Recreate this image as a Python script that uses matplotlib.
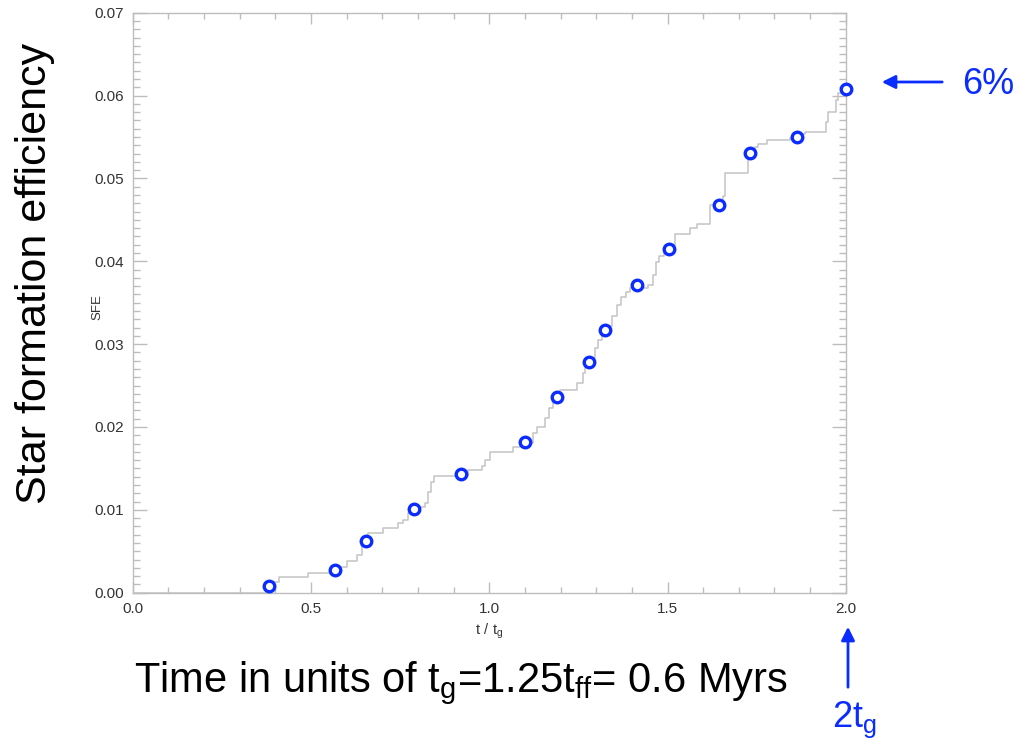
import matplotlib
matplotlib.use("Agg")
import matplotlib.pyplot as plt
from matplotlib.ticker import MultipleLocator

plt.rcParams['font.family'] = ['Liberation Sans', 'DejaVu Sans']

# Staircase SFE curve (step starts at time t with given level)
step_t = [0.0, 0.388, 0.410, 0.492, 0.584, 0.601, 0.629, 0.643, 0.660, 0.702,
          0.744, 0.758, 0.772, 0.800, 0.820, 0.828, 0.837, 0.845, 0.940, 0.980,
          0.988, 1.002, 1.067, 1.087, 1.123, 1.134, 1.157, 1.168, 1.179, 1.199,
          1.247, 1.263, 1.269, 1.283, 1.297, 1.305, 1.317, 1.334, 1.345, 1.359,
          1.370, 1.384, 1.395, 1.445, 1.459, 1.468, 1.476, 1.490, 1.510, 1.521,
          1.563, 1.583, 1.619, 1.656, 1.662, 1.726, 1.746, 1.754, 1.779, 1.844,
          1.872, 1.886, 1.945, 1.950, 1.973, 1.978, 1.990, 2.000]
step_sfe = [0.0, 0.00129, 0.00186, 0.00234, 0.00314, 0.00382, 0.00455, 0.00575, 0.00724, 0.00777,
            0.00837, 0.00877, 0.00961, 0.01034, 0.01082, 0.01215, 0.01335, 0.01408, 0.01480, 0.01528,
            0.01600, 0.01697, 0.01758, 0.01806, 0.01926, 0.01998, 0.02107, 0.02228, 0.02325, 0.02444,
            0.02526, 0.02650, 0.02735, 0.02831, 0.02952, 0.03048, 0.03133, 0.03217, 0.03338, 0.03470,
            0.03567, 0.03627, 0.03675, 0.03712, 0.03832, 0.03989, 0.04062, 0.04134, 0.04200, 0.04330,
            0.04402, 0.04450, 0.04680, 0.04785, 0.05063, 0.05316, 0.05376, 0.05421, 0.05461, 0.05485,
            0.05539, 0.05561, 0.05678, 0.05798, 0.05943, 0.06028, 0.06082, 0.06082]

# Sampled points (blue circles)
pt_t = [0.382, 0.567, 0.654, 0.789, 0.922, 1.100, 1.191, 1.281, 1.326, 1.415,
        1.504, 1.645, 1.730, 1.864, 2.000]
pt_sfe = [0.0008, 0.00274, 0.0062, 0.01006, 0.01432, 0.01818, 0.02357, 0.02779, 0.03169, 0.03708,
          0.04154, 0.04677, 0.05312, 0.05505, 0.06084]

xticks = [0.0, 0.5, 1.0, 1.5, 2.0]
yticks = [0.00, 0.01, 0.02, 0.03, 0.04, 0.05, 0.06, 0.07]

BLUE = '#0a2cff'
GRAY = '#bdbdbd'

fig = plt.figure(figsize=(10.2, 7.5), dpi=100)
ax = fig.add_axes([0.1301, 0.2097, 0.6991, 0.7734])

ax.step(step_t, step_sfe, where='post', color='#c4c4c4', lw=1.1, zorder=2)
ax.plot(pt_t, pt_sfe, 'o', mfc='white', mec=BLUE, ms=7.6, mew=2.4, zorder=3, clip_on=False)

ax.set_xlim(0, 2.0)
ax.set_ylim(0, 0.07)
ax.set_xticks(xticks)
ax.set_xticklabels([f"{v:.1f}" for v in xticks])
ax.set_yticks(yticks)
ax.set_yticklabels([f"{v:.2f}" for v in yticks])
ax.xaxis.set_minor_locator(MultipleLocator(0.1))
ax.yaxis.set_minor_locator(MultipleLocator(0.001))

for s in ax.spines.values():
    s.set_color(GRAY)
    s.set_linewidth(1.0)

ax.tick_params(which='both', direction='in', top=True, right=True, color=GRAY,
               labelsize=11, labelcolor='#333333', width=1.0)
ax.tick_params(axis='y', which='major', length=10, pad=6)
ax.tick_params(axis='y', which='minor', length=5)
ax.tick_params(axis='x', which='major', length=8, pad=7)
ax.tick_params(axis='x', which='minor', length=4)

ax.set_xlabel(r'$\mathregular{t\ /\ t_g}$', fontsize=10.5, color='#333333', labelpad=4)
fig.text(97/1020, 1-307/750, 'SFE', rotation=90, fontsize=9.5, color='#333333',
         ha='center', va='center')

fig.text(0.034, 0.636, 'Star formation efficiency', rotation=90, fontsize=31,
         ha='center', va='center', color='black')
fig.text(0.452, 0.089, r'Time in units of $\mathregular{t_g}$=1.25$\mathregular{t_{ff}}$= 0.6 Myrs',
         fontsize=30, ha='center', va='center', color='black')

# 6% arrow
fig.patches.append(matplotlib.patches.FancyArrowPatch(
    (945/1020, 1-82/750), (879/1020, 1-82/750), transform=fig.transFigure,
    arrowstyle='-|>', mutation_scale=20, color=BLUE, lw=2))
fig.text(962/1020, 1-85/750, '6%', fontsize=26, color=BLUE, ha='left', va='center')

# 2tg arrow
fig.patches.append(matplotlib.patches.FancyArrowPatch(
    (848/1020, 1-690/750), (848/1020, 1-624/750), transform=fig.transFigure,
    arrowstyle='-|>', mutation_scale=20, color=BLUE, lw=2))
fig.text(832/1020, 1-720/750, r'2$\mathregular{t_g}$', fontsize=26, color=BLUE, ha='left', va='center')

fig.savefig('out.png', dpi=100)
